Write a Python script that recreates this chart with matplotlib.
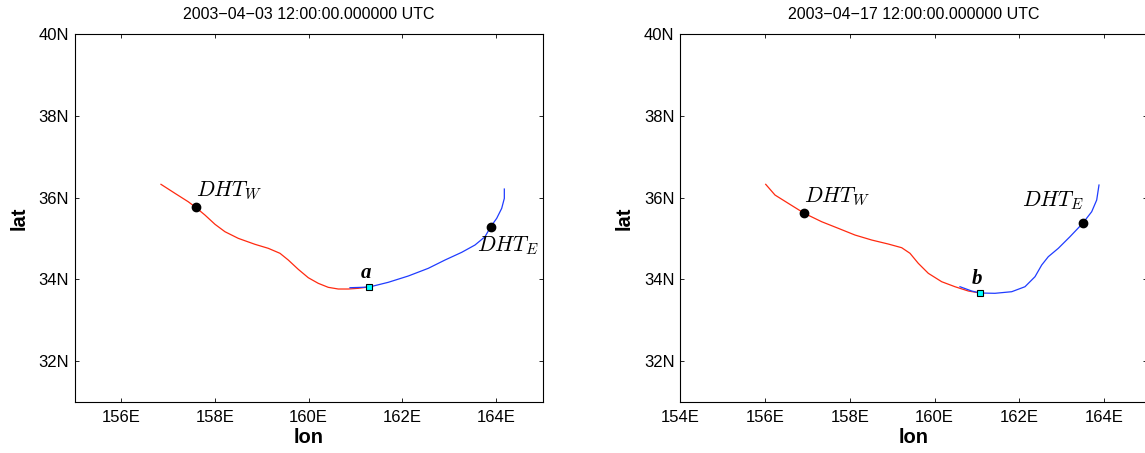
import numpy as np
import matplotlib
matplotlib.use("Agg")
import matplotlib.pyplot as plt
from matplotlib.ticker import FuncFormatter

plt.rcParams['font.family'] = ['Liberation Sans', 'DejaVu Sans']
plt.rcParams['mathtext.fontset'] = 'cm'

# panel titles
titles = ['2003\u221204\u221203 12:00:00.000000 UTC', '2003\u221204\u221217 12:00:00.000000 UTC']
panel_tags = ['a', 'b']

# 2003-04-03: western (red) and eastern (blue) branches
west1_lon = [156.845, 157.144, 157.428, 157.587, 157.785, 158.000, 158.213, 158.497, 158.854,
             159.139, 159.389, 159.566, 159.780, 159.994, 160.207, 160.421, 160.635, 160.849,
             161.063, 161.276]
west1_lat = [36.323, 36.103, 35.897, 35.760, 35.572, 35.345, 35.164, 35.002, 34.856,
             34.758, 34.636, 34.472, 34.244, 34.039, 33.902, 33.804, 33.763, 33.763,
             33.780, 33.812]
east1_lon = [160.885, 161.135, 161.298, 161.704, 162.131, 162.559, 162.916, 163.273, 163.557,
             163.771, 163.893, 164.021, 164.128, 164.184, 164.184]
east1_lat = [33.795, 33.804, 33.812, 33.927, 34.081, 34.269, 34.472, 34.660, 34.839,
             35.042, 35.286, 35.491, 35.736, 35.980, 36.208]
dhtw1 = (157.587, 35.760)
dhte1 = (163.893, 35.286)
point1 = (161.298, 33.812)

# 2003-04-17
west2_lon = [156.020, 156.239, 156.552, 156.930, 157.340, 157.731, 158.124, 158.518, 158.909,
             159.225, 159.421, 159.616, 159.852, 160.168, 160.481, 160.795, 161.030]
west2_lat = [36.323, 36.061, 35.858, 35.614, 35.408, 35.247, 35.083, 34.961, 34.863,
             34.773, 34.636, 34.391, 34.147, 33.941, 33.819, 33.714, 33.672]
east2_lon = [160.599, 160.875, 161.071, 161.424, 161.818, 162.131, 162.367, 162.525, 162.680,
             162.916, 163.191, 163.491, 163.703, 163.821, 163.875]
east2_lat = [33.819, 33.714, 33.665, 33.658, 33.697, 33.819, 34.064, 34.350, 34.553,
             34.758, 35.042, 35.369, 35.653, 35.939, 36.306]
dhtw2 = (156.930, 35.614)
dhte2 = (163.491, 35.369)
point2 = (161.071, 33.665)

xlims = [(155, 165), (154, 165)]
xticks = [[156, 158, 160, 162, 164], [154, 156, 158, 160, 162, 164]]
yticks = [32, 34, 36, 38, 40]

fig = plt.figure(figsize=(11.45, 4.53), dpi=100)
ax1 = fig.add_axes([0.0652, 0.1126, 0.4086, 0.8124])
ax2 = fig.add_axes([0.5939, 0.1126, 0.4076, 0.8124])

panels = [
    (ax1, west1_lon, west1_lat, east1_lon, east1_lat, dhtw1, dhte1, point1),
    (ax2, west2_lon, west2_lat, east2_lon, east2_lat, dhtw2, dhte2, point2),
]

for i, (ax, wlo, wla, elo, ela, dw, de, pt) in enumerate(panels):
    ax.plot(wlo, wla, color='#ff2a10', lw=0.9)
    ax.plot(elo, ela, color='#1f3cff', lw=0.9)
    ax.plot(*dw, 'o', color='k', ms=6)
    ax.plot(*de, 'o', color='k', ms=6)
    ax.plot(*pt, 's', mfc='cyan', mec='k', mew=0.8, ms=5)

    ax.annotate('$DHT_W$', dw, xytext=(0, 8.7), textcoords='offset points',
                ha='left', va='baseline', fontsize=15.5)
    if i == 0:
        ax.annotate('$DHT_E$', de, xytext=(-9.6, -17.6), textcoords='offset points',
                    ha='left', va='baseline', fontsize=15.5)
    else:
        ax.annotate('$DHT_E$', de, xytext=(0.5, 12), textcoords='offset points',
                    ha='right', va='baseline', fontsize=15.5)
    ax.annotate(panel_tags[i], pt, xytext=(-2.5, 6.2), textcoords='offset points',
                ha='center', va='baseline', fontsize=15, fontweight='bold',
                fontstyle='italic', family=['Liberation Serif', 'DejaVu Serif'])

    ax.set_xlim(*xlims[i])
    ax.set_ylim(31, 40)
    ax.set_xticks(xticks[i])
    ax.set_yticks(yticks)
    ax.xaxis.set_major_formatter(FuncFormatter(lambda v, p: '%dE' % v))
    ax.yaxis.set_major_formatter(FuncFormatter(lambda v, p: '%dN' % v))
    ax.tick_params(direction='in', length=3, width=0.6, top=True, right=True,
                   labelsize=12)
    ax.tick_params(axis='x', pad=6)
    ax.tick_params(axis='y', pad=4)
    for s in ax.spines.values():
        s.set_linewidth(0.8)
    ax.set_xlabel('lon', fontsize=14.5, fontweight='bold', labelpad=2)
    ax.set_ylabel('lat', fontsize=14.5, fontweight='bold', labelpad=7)
    ax.set_title(titles[i], fontsize=11.5, pad=11)

fig.savefig('out.png', dpi=100)
